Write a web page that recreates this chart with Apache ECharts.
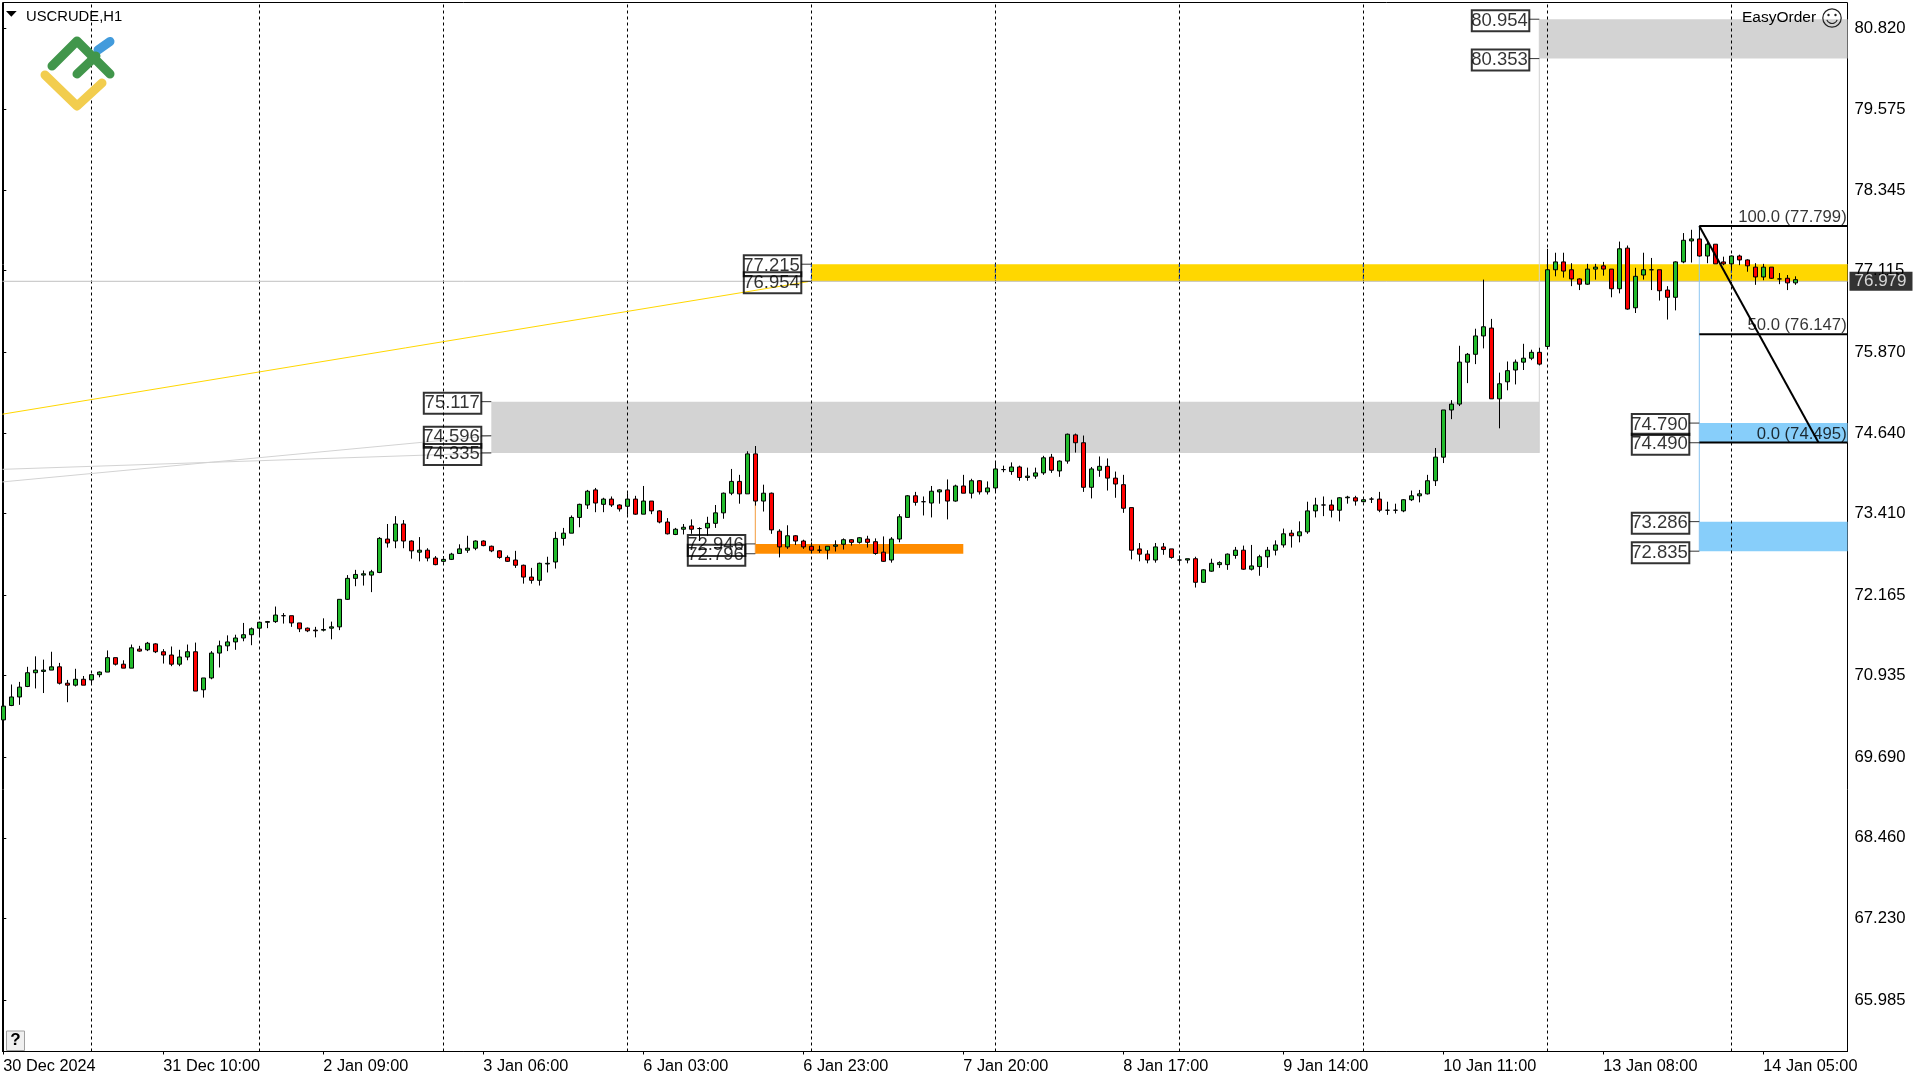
<!DOCTYPE html>
<html><head><meta charset="utf-8">
<style>html,body{margin:0;padding:0;background:#fff}#c{width:1920px;height:1080px}</style>
<script src="https://cdn.jsdelivr.net/npm/echarts@6/dist/echarts.min.js"></script>
</head><body><div id="c"></div>
<script>
const opens=[70.26,70.48,70.61,70.77,70.98,71.00,71.02,71.07,70.82,70.79,
70.88,70.87,70.95,70.99,71.21,71.11,71.05,71.34,71.33,71.42,
71.30,71.25,71.11,71.22,71.30,70.72,70.90,71.28,71.39,71.45,
71.51,71.56,71.66,71.75,71.76,71.85,71.85,71.74,71.66,71.63,
71.63,71.66,71.68,72.10,72.42,72.47,72.47,72.51,73.02,72.99,
73.25,72.99,72.82,72.85,72.73,72.68,72.71,72.80,72.85,72.88,
72.99,72.91,72.84,72.74,72.70,72.62,72.44,72.39,72.64,72.67,
73.03,73.11,73.35,73.54,73.77,73.55,73.63,73.54,73.52,73.63,
73.40,73.60,73.45,73.28,73.09,73.17,73.22,73.18,73.19,73.26,
73.42,73.72,73.90,73.71,74.32,73.60,73.72,73.14,72.90,73.07,
72.99,72.91,72.85,72.85,72.91,72.94,73.01,72.97,73.02,72.98,
72.82,72.70,73.02,73.35,73.68,73.59,73.57,73.74,73.77,73.60,
73.83,73.72,73.91,73.74,73.80,74.08,74.05,74.12,73.96,73.98,
74.03,74.27,74.06,74.21,74.61,74.49,73.81,74.07,74.13,73.95,
73.85,73.50,72.87,72.79,72.70,72.90,72.87,72.70,72.70,72.72,
72.36,72.53,72.63,72.63,72.77,72.85,72.56,72.60,72.75,72.85,
72.93,73.11,73.07,73.13,73.45,73.54,73.54,73.46,73.65,73.65,
73.59,73.63,73.63,73.46,73.46,73.45,73.62,73.68,73.71,73.91,
74.27,74.99,75.08,75.72,75.84,76.12,76.24,75.16,75.42,75.60,
75.72,75.78,75.87,75.96,77.13,77.25,77.13,76.99,76.91,77.14,
77.19,77.14,76.84,77.46,76.55,77.05,77.13,77.13,76.82,76.71,
77.25,77.57,77.60,77.34,77.52,77.25,77.22,77.34,77.28,77.17,
77.02,77.17,76.99,77.00,76.93];
const closes=[70.47,70.61,70.76,70.98,71.02,71.02,71.07,70.82,70.79,70.88,
70.79,70.95,70.99,71.21,71.11,71.05,71.36,71.31,71.43,71.30,
71.25,71.11,71.22,71.30,70.70,70.90,71.28,71.39,71.45,71.51,
71.56,71.65,71.75,71.76,71.86,71.85,71.74,71.65,71.62,71.62,
71.64,71.68,72.10,72.42,72.48,72.49,72.52,73.03,72.96,73.25,
72.99,72.84,72.85,72.73,72.63,72.71,72.79,72.87,72.88,72.99,
72.92,72.84,72.74,72.68,72.62,72.44,72.39,72.65,72.65,73.03,
73.11,73.35,73.55,73.75,73.57,73.63,73.54,73.48,73.63,73.40,
73.60,73.45,73.28,73.10,73.17,73.20,73.17,73.18,73.26,73.42,
73.72,73.90,73.71,74.32,73.60,73.72,73.16,72.90,73.07,72.99,
72.90,72.85,72.85,72.91,72.93,73.01,72.97,73.04,72.97,72.80,
72.68,73.02,73.36,73.68,73.58,73.59,73.75,73.77,73.60,73.83,
73.72,73.91,73.74,73.80,74.09,74.08,74.12,73.96,73.98,74.03,
74.26,74.07,74.21,74.62,74.49,73.81,74.09,74.13,73.95,73.86,
73.49,72.85,72.79,72.70,72.90,72.86,72.74,72.70,72.72,72.36,
72.55,72.65,72.66,72.79,72.85,72.56,72.61,72.75,72.85,72.93,
73.10,73.07,73.13,73.45,73.54,73.54,73.46,73.65,73.66,73.60,
73.62,73.63,73.46,73.46,73.46,73.62,73.68,73.71,73.91,74.27,
74.99,75.08,75.72,75.84,76.12,76.26,75.16,75.39,75.59,75.72,
75.78,75.87,75.69,77.13,77.25,77.11,76.99,76.91,77.14,77.17,
77.14,76.84,77.45,76.53,77.03,77.13,77.13,76.81,76.71,77.25,
77.58,77.60,77.34,77.52,77.22,77.22,77.34,77.28,77.19,77.02,
77.17,77.00,76.99,76.93,76.979];
const lows=[70.21,70.47,70.49,70.76,70.74,70.67,71.02,70.80,70.53,70.77,
70.79,70.81,70.91,70.99,71.09,71.05,71.05,71.30,71.31,71.28,
71.12,71.08,71.08,71.17,70.70,70.60,70.88,71.06,71.31,71.33,
71.46,71.40,71.55,71.66,71.74,71.73,71.68,71.60,71.60,71.52,
71.61,71.49,71.63,72.09,72.30,72.31,72.21,72.50,72.89,72.88,
72.88,72.72,72.68,72.68,72.62,72.66,72.70,72.80,72.81,72.85,
72.91,72.82,72.72,72.67,72.58,72.34,72.34,72.31,72.51,72.57,
72.92,73.11,73.20,73.48,73.43,73.43,73.51,73.44,73.39,73.39,
73.40,73.40,73.26,73.09,73.08,73.09,73.10,72.99,73.07,73.19,
73.33,73.69,73.56,73.71,73.53,73.44,73.10,72.74,72.87,72.93,
72.87,72.82,72.81,72.71,72.83,72.86,72.92,72.95,72.89,72.78,
72.67,72.66,72.97,73.35,73.53,73.38,73.35,73.56,73.32,73.59,
73.72,73.64,73.70,73.70,73.74,74.04,74.00,73.91,73.91,73.94,
74.00,74.03,73.97,74.17,74.34,73.74,73.64,73.97,73.76,73.65,
73.42,72.71,72.68,72.65,72.66,72.78,72.72,72.65,72.65,72.28,
72.35,72.52,72.58,72.55,72.72,72.55,72.54,72.46,72.58,72.77,
72.89,72.89,72.97,73.10,73.35,73.37,73.35,73.29,73.56,73.53,
73.58,73.57,73.43,73.39,73.41,73.43,73.60,73.58,73.70,73.83,
74.18,74.85,75.05,75.40,75.69,75.93,75.16,74.71,75.29,75.38,
75.60,75.75,75.67,75.95,77.03,77.01,76.88,76.82,76.90,76.98,
77.04,76.71,76.77,76.52,76.47,76.98,76.82,76.66,76.37,76.51,
77.23,77.24,77.33,77.23,77.22,77.20,77.12,77.20,77.10,76.90,
76.97,76.99,76.91,76.82,76.90];
const highs=[70.52,70.80,70.84,71.07,71.23,71.18,71.30,71.13,70.87,71.04,
70.93,70.95,71.00,71.32,71.21,71.17,71.41,71.39,71.45,71.43,
71.34,71.38,71.33,71.41,71.44,70.90,71.31,71.47,71.55,71.56,
71.74,71.67,71.76,71.77,71.99,71.89,71.85,71.74,71.67,71.68,
71.81,71.76,72.10,72.47,72.55,72.54,72.55,73.05,73.25,73.37,
73.31,73.00,73.05,72.88,72.76,72.76,72.81,72.94,73.07,73.00,
73.00,72.92,72.85,72.77,72.84,72.63,72.58,72.66,72.75,73.13,
73.19,73.38,73.56,73.77,73.80,73.65,73.67,73.55,73.72,73.68,
73.83,73.60,73.46,73.34,73.19,73.25,73.32,73.20,73.36,73.54,
73.73,74.09,74.00,74.36,74.44,73.85,73.73,73.17,73.23,73.08,
73.01,72.97,72.92,72.91,73.00,73.03,73.02,73.05,73.07,73.03,
73.06,73.05,73.40,73.69,73.74,73.67,73.83,73.78,73.93,73.85,
74.00,73.94,73.92,73.90,74.19,74.14,74.19,74.14,74.11,74.11,
74.29,74.32,74.22,74.63,74.63,74.60,74.12,74.28,74.25,74.05,
74.00,73.50,72.96,72.85,72.96,72.96,72.87,72.77,72.72,72.75,
72.56,72.72,72.68,72.80,72.90,72.92,72.93,72.78,72.90,73.00,
73.18,73.16,73.29,73.59,73.65,73.67,73.62,73.66,73.68,73.68,
73.62,73.66,73.74,73.59,73.56,73.63,73.76,73.77,74.00,74.41,
74.99,75.14,75.97,75.86,76.23,76.98,76.38,75.56,75.73,75.76,
76.00,75.91,75.94,77.45,77.39,77.39,77.23,77.00,77.22,77.22,
77.25,77.14,77.56,77.50,77.16,77.39,77.31,77.13,76.88,77.26,
77.69,77.74,77.79,77.58,77.52,77.33,77.35,77.36,77.29,77.23,
77.22,77.17,77.08,77.05,77.03];

const xTickBars=[0,20,40,60,80,100,120,140,160,180,200,220];
const xTickLabels=['30 Dec 2024','31 Dec 10:00','2 Jan 09:00','3 Jan 06:00','6 Jan 03:00','6 Jan 23:00','7 Jan 20:00','8 Jan 17:00','9 Jan 14:00','10 Jan 11:00','13 Jan 08:00','14 Jan 05:00'];
const yTicks=[80.82,79.575,78.345,77.115,75.87,74.64,73.41,72.165,70.935,69.69,68.46,67.23,65.985];
const separators=[11,32,55,78,101,124,147,170,193,216];
const xMin=-0.1, xMax=230.525, yMin=65.199, yMax=81.209;

// zones: start bar, end bar, top price, bottom price, colour
const zoneStart=[101,61,94,192,212,212];
const zoneEnd=[xMax,192,120,xMax,xMax,xMax];
const zoneTop=[77.215,75.117,72.946,80.954,74.79,73.286];
const zoneBottom=[76.954,74.335,72.796,80.353,74.49,72.835];
const zoneColor=['#ffd700','#d3d3d3','#ff8c00','#d3d3d3','#87cefa','#87cefa'];

// price tags: bar the tag hangs from, price
const tagBar=[192,192,101,101,61,61,61,94,94,212,212,212,212];
const tagPrice=[80.954,80.353,77.215,76.954,75.117,74.596,74.335,72.946,72.796,74.79,74.49,73.286,72.835];

const fiboBar=212, fiboEndBar=226.9;
const fiboLevels=[77.799,76.147,74.495];
const fiboNames=['100.0 (77.799)','50.0 (76.147)','0.0 (74.495)'];
const lastPrice=76.979;

const candles=opens.map((o,i)=>[i,o,closes[i],lows[i],highs[i]]);
const segLine=(pts,color,width,z)=>({type:'line',data:pts,symbol:'none',silent:true,z:z,clip:true,animation:false,
  lineStyle:{color:color,width:width,type:'solid'}});
const font='"Liberation Sans", Arial, sans-serif';

const series=[
 {type:'candlestick',data:candles,barWidth:4,z:3,animation:false,
  itemStyle:{color:'#22bb2c',color0:'#ff0000',borderColor:'#000',borderColor0:'#000',borderColorDoji:'#000',borderWidth:1},
  markArea:{silent:true,z:0,animation:false,itemStyle:{opacity:1,borderWidth:0},
    data:zoneStart.map((s,i)=>[{coord:[s,zoneTop[i]],itemStyle:{color:zoneColor[i],opacity:1}},{coord:[zoneEnd[i],zoneBottom[i]]}])},
  markLine:{silent:true,z:1,animation:false,symbol:'none',label:{show:false},
    lineStyle:{color:'#000',type:[3,3],width:1},
    data:separators.map(s=>({xAxis:s}))}
 },
 segLine([[xMin,76.954],[xMax,76.954]],'#c0c0c0',1,1),
 segLine([[-0.1,74.926],[100.6,76.948]],'#ffd700',1,4),
 segLine([[-0.1,74.084],[61,74.335]],'#d3d3d3',1,4),
 segLine([[-0.1,73.892],[61,74.596]],'#d3d3d3',1,4),
 segLine([[192,80.954],[192,74.335]],'#d3d3d3',1,1),
 segLine([[94,73.6],[94,72.796]],'#f39c3c',1,1),
 segLine([[fiboBar,fiboLevels[0]],[fiboBar,72.835]],'#8cc6f2',1,1),
 ...fiboLevels.map(p=>segLine([[fiboBar,p],[xMax,p]],'#000',2,4)),
 segLine([[fiboBar,fiboLevels[0]],[fiboEndBar,fiboLevels[2]]],'#000',2,4),
 ...separators.slice(4).map(s=>({type:'line',data:[[s,77.215],[s,76.954]],symbol:'none',z:1,silent:true,animation:false,lineStyle:{color:'#0a3cc8',width:1,type:[3,3]}})),
 {type:'scatter',data:tagBar.map((b,i)=>[b,tagPrice[i]]),clip:false,silent:true,animation:false,z:6,
  symbol:'rect',symbolSize:[10,1],symbolOffset:[-5,0],itemStyle:{color:'#000'},
  label:{show:true,position:'left',distance:0,offset:[0,1.5],formatter:p=>p.value[1].toFixed(3),
    fontFamily:font,fontSize:18.5,color:'#000',width:56,height:21,lineHeight:21,verticalAlign:'middle',padding:[0,1.5,0,0],
    borderColor:'#000',borderWidth:1,backgroundColor:'transparent'}},
 {type:'scatter',data:fiboLevels.map((p,i)=>({value:[xMax-0.1,p],name:fiboNames[i]})),clip:false,silent:true,animation:false,z:6,
  symbolSize:0,label:{show:true,position:'insideBottomRight',distance:0,formatter:p=>p.name,fontFamily:font,fontSize:16.7,color:'#000'}},
 {type:'scatter',data:[[xMax,lastPrice]],clip:false,silent:true,animation:false,z:7,symbolSize:0,
  label:{show:true,position:'right',distance:2,offset:[0,1.5],formatter:p=>p.value[1].toFixed(3),fontFamily:font,fontSize:17,color:'#fff',
    backgroundColor:'#000',padding:[2,6,1,5],lineHeight:16}}
];

const logo=(points,color,w,z)=>({type:'polyline',z:z,shape:{points:points},style:{stroke:color,lineWidth:w,fill:null,lineCap:'round',lineJoin:'round'}});
const graphic=[
 {type:'polygon',z:20,shape:{points:[[6,11],[16.7,11],[11.3,16.7]]},style:{fill:'#000'}},
 {type:'text',z:20,x:26,y:9,style:{text:'USCRUDE,H1',font:'14.8px '+font,fill:'#000'}},
 logo([[98,50],[110,41.5]],'#429bdc',9,20),
 logo([[52,66],[77,41],[110,74]],'#41964b',9,21),
 logo([[77,74],[96,56]],'#41964b',9,21),
 logo([[45,75],[77,106],[102,83]],'#f2cd4e',9,21),
 {type:'text',z:20,x:1742,y:10,style:{text:'EasyOrder',font:'15.5px '+font,fill:'#000'}},
 {type:'circle',z:20,shape:{cx:1832,cy:18,r:9.2},style:{stroke:'#222',lineWidth:1.2,fill:null}},
 {type:'circle',z:20,shape:{cx:1828.5,cy:15,r:1.2},style:{fill:'#222'}},
 {type:'circle',z:20,shape:{cx:1835.5,cy:15,r:1.2},style:{fill:'#222'}},
 {type:'arc',z:20,shape:{cx:1832,cy:18,r:5.5,startAngle:0.35,endAngle:Math.PI-0.35},style:{stroke:'#222',lineWidth:1.2,fill:null}},
 {type:'rect',z:20,shape:{x:6.5,y:1031,width:18,height:19.5},style:{fill:'#f0f0f0',stroke:'#a0a0a0',lineWidth:1}},
 {type:'text',z:21,x:15.5,y:1032,style:{text:'?',font:'bold 17px '+font,fill:'#000',align:'center'}}
];

const chart=echarts.init(document.getElementById('c'),null,{renderer:'canvas'});
chart.setOption({
 animation:false,backgroundColor:'#fff',tooltip:{show:false},legend:{show:false},
 grid:{left:2.5,top:2.5,right:72.5,bottom:28.5,show:true,borderColor:'#000',borderWidth:1,backgroundColor:'transparent'},
 xAxis:{type:'value',min:xMin,max:xMax,splitLine:{show:false},axisLine:{show:true,lineStyle:{color:'#000'}},
  axisTick:{show:true,length:3,customValues:xTickBars,lineStyle:{color:'#000'}},
  axisLabel:{customValues:xTickBars,align:'left',margin:7,color:'#000',fontFamily:font,fontSize:16.3,
    formatter:v=>xTickLabels[Math.round(v/20)]}},
 yAxis:{type:'value',position:'right',min:yMin,max:yMax,splitLine:{show:false},axisLine:{show:true,lineStyle:{color:'#000'}},
  axisTick:{show:true,length:3,customValues:yTicks,lineStyle:{color:'#000'}},
  axisLabel:{customValues:yTicks,margin:7,color:'#000',fontFamily:font,fontSize:16.7,padding:[9,0,0,0],formatter:v=>v.toFixed(3)}},
 series:series,graphic:graphic
});
</script></body></html>
